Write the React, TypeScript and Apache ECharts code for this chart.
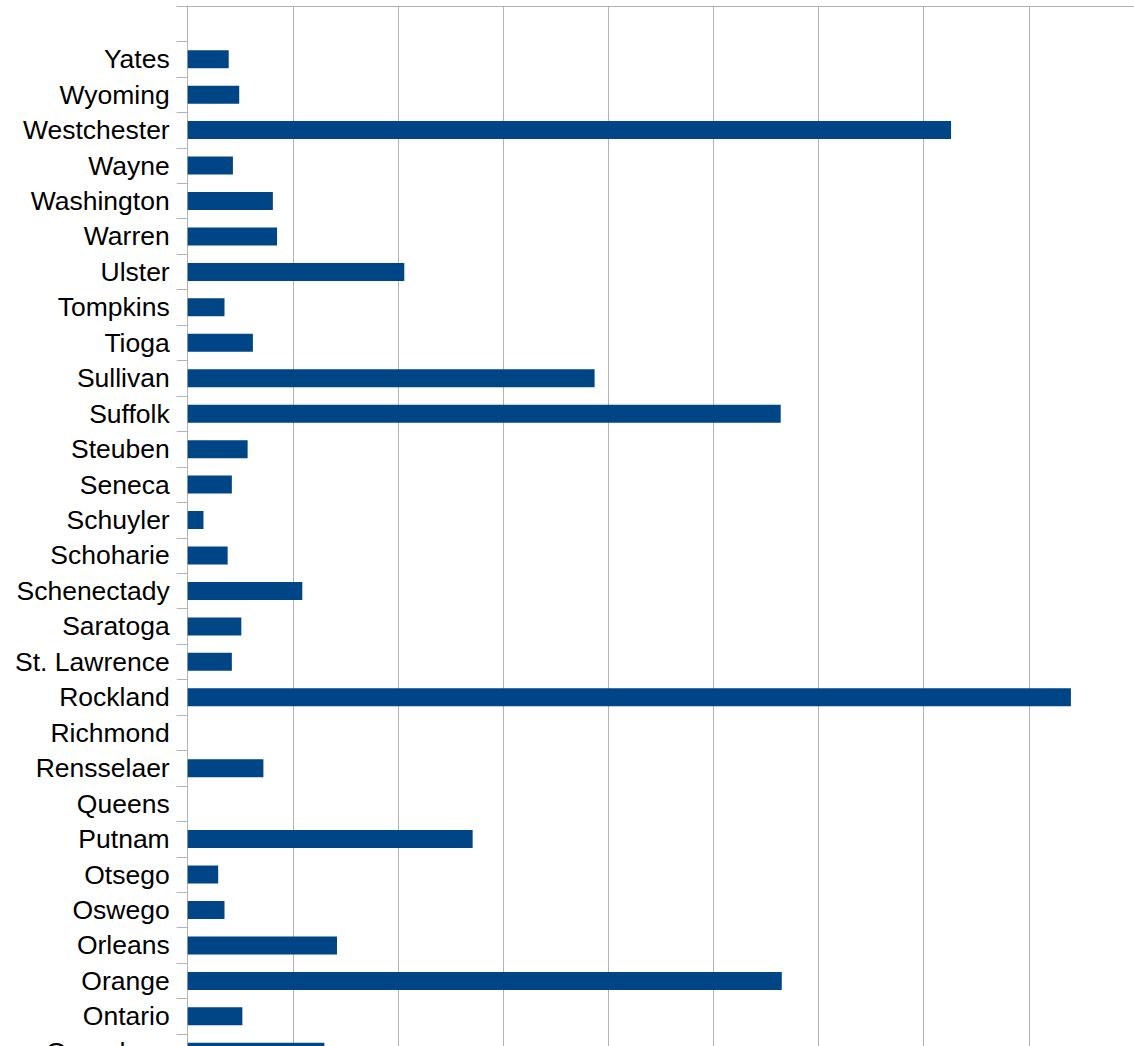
import React, { useEffect, useRef } from "react";
import * as echarts from "echarts";

// Categories, top to bottom (first slot is an unlabeled empty slot)
const counties: string[] = [
  "",
  "Yates",
  "Wyoming",
  "Westchester",
  "Wayne",
  "Washington",
  "Warren",
  "Ulster",
  "Tompkins",
  "Tioga",
  "Sullivan",
  "Suffolk",
  "Steuben",
  "Seneca",
  "Schuyler",
  "Schoharie",
  "Schenectady",
  "Saratoga",
  "St. Lawrence",
  "Rockland",
  "Richmond",
  "Rensselaer",
  "Queens",
  "Putnam",
  "Otsego",
  "Oswego",
  "Orleans",
  "Orange",
  "Ontario",
  "Onondaga",
];

// Values, in units of one gridline step (no value labels are visible)
const values: (number | null)[] = [
  null,
  0.39,
  0.49,
  7.26,
  0.43,
  0.81,
  0.85,
  2.06,
  0.35,
  0.62,
  3.87,
  5.64,
  0.57,
  0.42,
  0.15,
  0.38,
  1.09,
  0.51,
  0.42,
  8.4,
  0,
  0.72,
  0,
  2.71,
  0.29,
  0.35,
  1.42,
  5.65,
  0.52,
  1.3,
];

const axisMin = 0;
const axisMax = 9;
const axisInterval = 1;

export default function App() {
  const ref = useRef<HTMLDivElement>(null);

  useEffect(() => {
    if (!ref.current) return;
    const chart = echarts.init(ref.current, null, { renderer: "svg" });
    const slot = 35.45;
    chart.setOption({
      animation: false,
      backgroundColor: "#ffffff",
      grid: {
        left: 187.7,
        top: 6,
        width: 105.3 * 9,
        height: slot * counties.length,
        containLabel: false,
      },
      xAxis: {
        type: "value",
        position: "top",
        min: axisMin,
        max: axisMax,
        interval: axisInterval,
        axisLine: { show: true, lineStyle: { color: "#b3b3b3", width: 1 } },
        axisTick: { show: false },
        axisLabel: { show: false },
        splitLine: { show: true, lineStyle: { color: "#b3b3b3", width: 1 } },
      },
      yAxis: {
        type: "category",
        inverse: true,
        data: counties,
        boundaryGap: true,
        axisLine: { show: true, lineStyle: { color: "#b3b3b3", width: 1 } },
        axisTick: {
          show: true,
          length: 11,
          inside: false,
          lineStyle: { color: "#b3b3b3", width: 1 },
        },
        axisLabel: {
          show: true,
          interval: 0,
          margin: 18,
          color: "#000000",
          fontFamily: "Liberation Sans",
          fontSize: 26.5,
        },
        splitLine: { show: false },
      },
      series: [
        {
          type: "bar",
          data: values,
          barWidth: 18,
          itemStyle: { color: "#004586" },
        },
      ],
    });
    return () => chart.dispose();
  }, []);

  return (
    <div
      ref={ref}
      style={{
        position: "fixed",
        left: 0,
        top: 0,
        width: 1134,
        height: 1100,
        background: "#ffffff",
      }}
    />
  );
}
